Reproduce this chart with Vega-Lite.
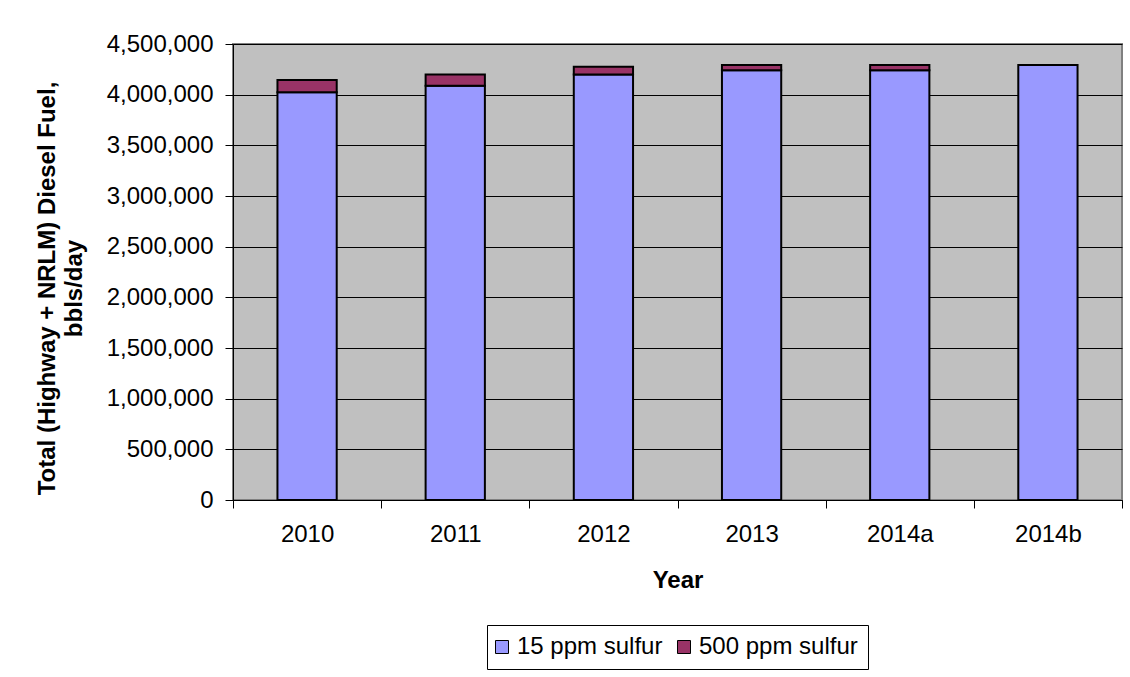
{
  "$schema": "https://vega.github.io/schema/vega-lite/v6.json",
  "autosize": {"type": "none"},
  "width": 889,
  "height": 456,
  "padding": {"left": 233, "top": 44, "right": 8, "bottom": 177},
  "background": "#ffffff",
  "config": {
    "font": "Liberation Sans",
    "view": {"fill": "#C0C0C0", "stroke": "#808080", "strokeWidth": 2}
  },
  "data": {
    "values": [
      {"year": "2010", "fuel": "15 ppm sulfur", "order": 1, "bbl": 4025000},
      {"year": "2010", "fuel": "500 ppm sulfur", "order": 2, "bbl": 120000},
      {"year": "2011", "fuel": "15 ppm sulfur", "order": 1, "bbl": 4088000},
      {"year": "2011", "fuel": "500 ppm sulfur", "order": 2, "bbl": 110000},
      {"year": "2012", "fuel": "15 ppm sulfur", "order": 1, "bbl": 4200000},
      {"year": "2012", "fuel": "500 ppm sulfur", "order": 2, "bbl": 75000},
      {"year": "2013", "fuel": "15 ppm sulfur", "order": 1, "bbl": 4240000},
      {"year": "2013", "fuel": "500 ppm sulfur", "order": 2, "bbl": 53000},
      {"year": "2014a", "fuel": "15 ppm sulfur", "order": 1, "bbl": 4240000},
      {"year": "2014a", "fuel": "500 ppm sulfur", "order": 2, "bbl": 53000},
      {"year": "2014b", "fuel": "15 ppm sulfur", "order": 1, "bbl": 4293000},
      {"year": "2014b", "fuel": "500 ppm sulfur", "order": 2, "bbl": 0}
    ]
  },
  "mark": {"type": "bar", "width": {"band": 0.4}, "stroke": "#000000", "strokeWidth": 2},
  "encoding": {
    "x": {
      "field": "year",
      "type": "nominal",
      "scale": {"paddingInner": 0, "paddingOuter": 0},
      "axis": {
        "title": "Year",
        "titleFontSize": 24,
        "titleFontWeight": "bold",
        "titleColor": "#000000",
        "titlePadding": 22,
        "labelAngle": 0,
        "labelFontSize": 24,
        "labelColor": "#000000",
        "labelPadding": 14,
        "tickBand": "extent",
        "tickSize": 8,
        "tickColor": "#000000",
        "domainColor": "#000000",
        "domainWidth": 1,
        "grid": false
      }
    },
    "y": {
      "field": "bbl",
      "type": "quantitative",
      "stack": "zero",
      "scale": {"domain": [0, 4500000], "nice": false},
      "axis": {
        "title": ["Total (Highway + NRLM) Diesel Fuel,", "bbls/day"],
        "titleFontSize": 24,
        "titleFontWeight": "bold",
        "titleColor": "#000000",
        "titleLineHeight": 27,
        "titlePadding": 20,
        "titleY": 244,
        "values": [0, 500000, 1000000, 1500000, 2000000, 2500000, 3000000, 3500000, 4000000, 4500000],
        "format": ",d",
        "labelFontSize": 24,
        "labelColor": "#000000",
        "labelPadding": 12,
        "tickSize": 8,
        "tickColor": "#000000",
        "domainColor": "#000000",
        "grid": true,
        "gridColor": "#000000",
        "gridWidth": 1
      }
    },
    "color": {
      "field": "fuel",
      "type": "nominal",
      "scale": {"domain": ["15 ppm sulfur", "500 ppm sulfur"], "range": ["#9999FF", "#993366"]},
      "legend": {
        "title": null,
        "orient": "none",
        "legendX": 254,
        "legendY": 581,
        "direction": "horizontal",
        "symbolType": "square",
        "symbolSize": 169,
        "symbolOffset": -7,
        "symbolStrokeColor": "#000000",
        "symbolStrokeWidth": 1,
        "symbolOpacity": 1,
        "labelFontSize": 24,
        "labelColor": "#000000",
        "labelOffset": 3,
        "columnPadding": 12,
        "strokeColor": "#000000",
        "padding": 10
      }
    },
    "order": {"field": "order", "type": "quantitative"}
  }
}
